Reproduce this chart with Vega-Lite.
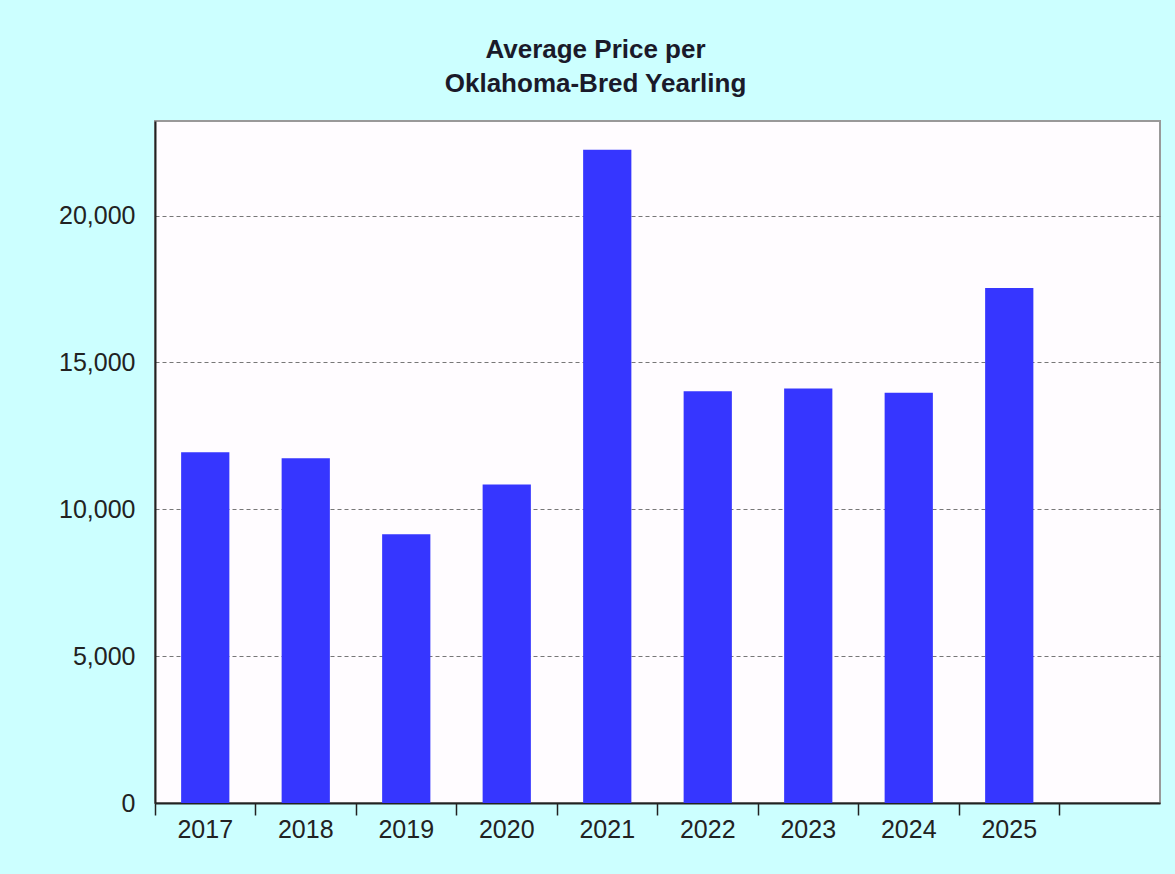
{
  "$schema": "https://vega.github.io/schema/vega-lite/v6.json",
  "autosize": {"type": "none"},
  "width": 1005,
  "height": 682,
  "padding": {"left": 155, "top": 121, "right": 15, "bottom": 71},
  "background": "#CCFFFF",
  "title": {
    "text": ["Average Price per", "Oklahoma-Bred Yearling"],
    "font": "Liberation Sans",
    "fontSize": 26,
    "fontWeight": "bold",
    "color": "#1a1a2a",
    "lineHeight": 34,
    "anchor": "middle",
    "dx": -62,
    "offset": 24
  },
  "data": {
    "values": [
      {"year": "2017", "price": 11940},
      {"year": "2018", "price": 11735},
      {"year": "2019", "price": 9150},
      {"year": "2020", "price": 10840},
      {"year": "2021", "price": 22240},
      {"year": "2022", "price": 14020},
      {"year": "2023", "price": 14110},
      {"year": "2024", "price": 13965},
      {"year": "2025", "price": 17530}
    ]
  },
  "mark": {"type": "bar", "color": "#3636FF", "width": {"band": 0.48}},
  "encoding": {
    "x": {
      "field": "year",
      "type": "nominal",
      "scale": {"domain": ["2017", "2018", "2019", "2020", "2021", "2022", "2023", "2024", "2025", " "], "paddingInner": 0, "paddingOuter": 0},
      "axis": {
        "title": null,
        "labelAngle": 0,
        "bandPosition": 0,
        "tickSize": 12,
        "tickWidth": 1.5,
        "tickColor": "#222",
        "domainColor": "#222",
        "domainWidth": 2,
        "labelFont": "Liberation Sans",
        "labelFontSize": 25,
        "labelColor": "#222",
        "labelPadding": 2,
        "grid": false
      }
    },
    "y": {
      "field": "price",
      "type": "quantitative",
      "scale": {"domain": [0, 23220], "nice": false},
      "axis": {
        "title": null,
        "values": [0, 5000, 10000, 15000, 20000],
        "format": ",d",
        "ticks": false,
        "labelPadding": 20,
        "labelFont": "Liberation Sans",
        "labelFontSize": 25,
        "labelColor": "#222",
        "domainColor": "#222",
        "domainWidth": 2,
        "grid": true,
        "gridColor": "#777",
        "gridDash": [4, 3],
        "gridWidth": 1
      }
    }
  },
  "config": {
    "view": {"stroke": "#999", "strokeWidth": 2, "fill": "#FFFCFF"}
  }
}
